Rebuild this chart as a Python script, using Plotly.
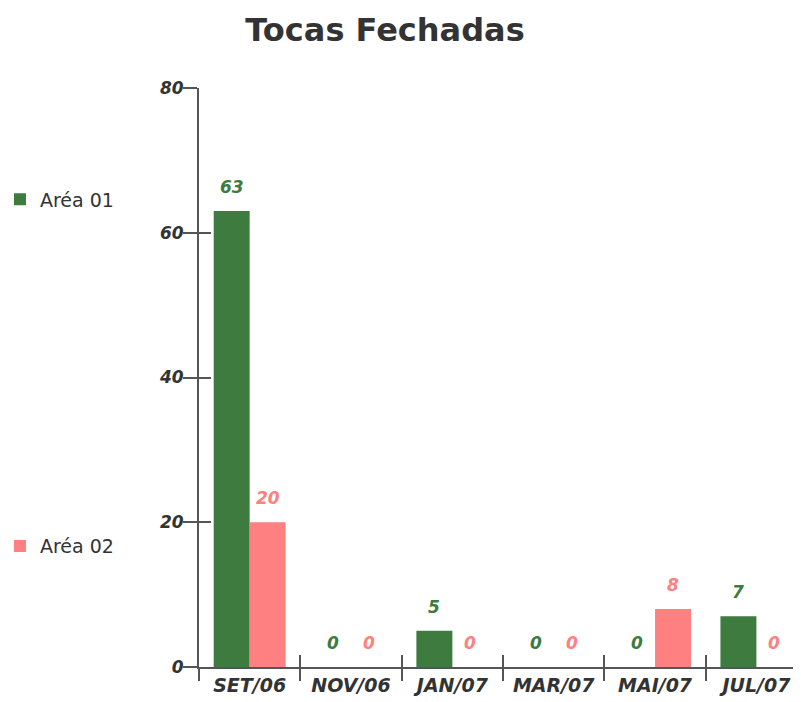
import plotly.graph_objects as go

months = ["SET/06", "NOV/06", "JAN/07", "MAR/07", "MAI/07", "JUL/07"]
area01 = [63, 0, 5, 0, 0, 7]
area02 = [20, 0, 0, 0, 8, 0]
series_names = ["Aréa 01", "Aréa 02"]
colors = ["#3e7b3e", "#ff8080"]
y_ticks = [0, 20, 40, 60, 80]

AX = "#555555"
TXT = "#333333"
FONT = "DejaVu Sans"

W, H = 793, 694

fig = go.Figure()
for name, vals, col, grp in [(series_names[0], area01, colors[0], "g1"),
                              (series_names[1], area02, colors[1], "g2")]:
    fig.add_trace(go.Bar(
        x=months, y=vals, name=name, marker=dict(color=col, line=dict(width=0)),
        legendgroup=grp, hoverinfo="skip"))

# invisible trace to carry the overlay axes (crossing ticks)
fig.add_trace(go.Scatter(x=months, y=area01, xaxis="x2", yaxis="y2", mode="markers",
                         marker=dict(opacity=0), showlegend=False, hoverinfo="skip"))

# value labels
for vals, col, shift in [(area01, colors[0], -18), (area02, colors[1], 18)]:
    for m, v in zip(months, vals):
        fig.add_annotation(x=m, y=v, xref="x", yref="y", text=str(v), showarrow=False,
                           xshift=shift, yshift=24, yanchor="middle",
                           font=dict(family=FONT, size=17, color=col, weight="bold", style="italic"))

xr = [-0.5, 5.44]
fig.update_layout(
    width=W, height=H,
    margin=dict(l=191, r=0, t=80, b=35, autoexpand=False),
    paper_bgcolor="white", plot_bgcolor="white",
    title=dict(text="<b>Tocas Fechadas</b>", x=(385 - 8) / W, xref="container", xanchor="center",
               y=1 - 22 / H, yref="container", yanchor="middle",
               font=dict(family=FONT, size=32, color=TXT)),
    barmode="group", bargap=0.29, bargroupgap=0,
    hovermode=False,
    showlegend=True,
    legend=dict(x=-0.3306, xanchor="left", y=0.8405, yanchor="top", tracegroupgap=319,
                font=dict(family=FONT, size=19, color=TXT), bgcolor="rgba(0,0,0,0)"),
    xaxis=dict(type="category", categoryarray=months, range=xr, showgrid=False,
               showline=True, linecolor=AX, linewidth=2, ticks="outside", ticklen=12,
               tickwidth=2, tickcolor=AX, tickson="boundaries",
               tickfont=dict(family=FONT, size=19, color=TXT, weight="bold", style="italic"),
               zeroline=False),
    yaxis=dict(range=[0, 80], tickvals=y_ticks, showgrid=False, zeroline=False,
               showline=True, linecolor=AX, linewidth=2, ticks="outside", ticklen=14,
               tickwidth=2, tickcolor=AX, ticklabelstandoff=-4,
               tickfont=dict(family=FONT, size=17, color=TXT, weight="bold", style="italic")),
    xaxis2=dict(type="category", categoryarray=months, range=xr, overlaying="x",
                anchor="y2", showgrid=False, showline=False, ticks="inside", ticklen=12,
                tickwidth=2, tickcolor=AX, tickson="boundaries", showticklabels=False,
                zeroline=False),
    yaxis2=dict(range=[0, 80], tickvals=y_ticks, overlaying="y", anchor="x2",
                showgrid=False, showline=False, ticks="inside", ticklen=12, tickwidth=2,
                tickcolor=AX, showticklabels=False, zeroline=False),
)

fig.write_html("out.html")
